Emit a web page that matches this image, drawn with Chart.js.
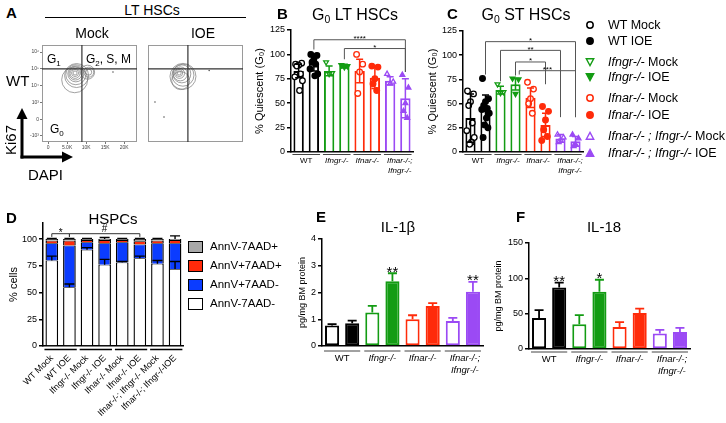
<!DOCTYPE html>
<html>
<head>
<meta charset="utf-8">
<script src="https://cdn.jsdelivr.net/npm/chart.js@4.4.1/dist/chart.umd.min.js"></script>
<style>
  body { margin: 0; background: #fff; }
  #page { position: relative; width: 726px; height: 423px; overflow: hidden; font-family: "Liberation Sans", Arial, sans-serif; color: #000; }
  #page canvas, #page svg { position: absolute; }
  .t { position: absolute; white-space: nowrap; line-height: 1; }
  .letter { font-weight: bold; font-size: 15px; }
  .mid { transform: translateX(-50%); }
  sub { font-size: 0.65em; vertical-align: -0.25em; line-height: 0; }
  .lg { position: absolute; white-space: nowrap; line-height: 1; }
</style>
</head>
<body>
<div id="page">
  <svg width="260" height="200" style="left:0;top:0">
    <line x1="45" y1="17.5" x2="246" y2="17.5" stroke="#000" stroke-width="1.2"/>
    <line x1="22" y1="158.5" x2="22" y2="117" stroke="#000" stroke-width="3"/>
    <polygon points="22,108 16.5,119 27.5,119" fill="#000"/>
    <line x1="20.5" y1="157" x2="63" y2="157" stroke="#000" stroke-width="3"/>
    <polygon points="73,157 62,151.5 62,162.5" fill="#000"/>
  </svg>
  <canvas id="flowMock" width="120" height="115" style="left:22px;top:40px"></canvas>
  <canvas id="flowIoe" width="105" height="115" style="left:143px;top:40px"></canvas>
  <canvas id="ltChart" width="170" height="172" style="left:250px;top:20px"></canvas>
  <canvas id="stChart" width="165" height="170" style="left:425px;top:20px"></canvas>
  <canvas id="hspcChart" width="190" height="208" style="left:0;top:215px"></canvas>
  <canvas id="il1Chart" width="200" height="150" style="left:290px;top:228px"></canvas>
  <canvas id="il18Chart" width="205" height="150" style="left:492px;top:230px"></canvas>

  <div class="t letter" style="left:6px;top:5px">A</div>
  <div class="t mid" style="left:152px;top:3px;font-size:14px">LT HSCs</div>
  <div class="t mid" style="left:92px;top:26px;font-size:14px">Mock</div>
  <div class="t mid" style="left:203px;top:26px;font-size:14px">IOE</div>
  <div class="t" style="left:6px;top:73px;font-size:15px">WT</div>
  <div class="t" style="left:10px;top:140px;font-size:15px;transform:translate(-50%,-50%) rotate(-90deg)">Ki67</div>
  <div class="t" style="left:28px;top:167px;font-size:15px">DAPI</div>

  <div class="t letter" style="left:277px;top:6px">B</div>
  <div class="t mid" style="left:355px;top:7px;font-size:16px">G<sub>0</sub> LT HSCs</div>
  <div class="t letter" style="left:447px;top:6px">C</div>
  <div class="t mid" style="left:526px;top:7px;font-size:16px">G<sub>0</sub> ST HSCs</div>

  <div class="t letter" style="left:6px;top:210px">D</div>
  <div class="t mid" style="left:113px;top:211px;font-size:15px">HSPCs</div>
  <div class="t letter" style="left:316px;top:209px">E</div>
  <div class="t mid" style="left:398px;top:219px;font-size:15px">IL-1β</div>
  <div class="t letter" style="left:516px;top:209px">F</div>
  <div class="t mid" style="left:604px;top:219px;font-size:15px">IL-18</div>
  <div id="legendC"></div>
  <div id="legendD"></div>
</div>
<script>
// ---- data ----
const groupNames = ['WT', 'Ifngr-/-', 'Ifnar-/-', ['Ifnar-/-;', 'Ifngr-/-']];
const barNames = ['WT Mock', 'WT IOE', 'Ifngr-/- Mock', 'Ifngr-/- IOE', 'Ifnar-/- Mock', 'Ifnar-/- IOE',
    'Ifnar-/-; Ifngr-/- Mock', 'Ifnar-/-; Ifngr-/-IOE'];

// A: flow plots (DAPI vs Ki67), contour rings {x, y, r}
const dapiTicks = [0, 5000, 10000, 15000, 20000];
const dapiLabels = ['0', '5.0K', '10K', '15K', '20K'];
const ki67Ticks = [-1, 0, 1, 2, 3, 4];
const ki67Labels = ['-10³', '0', '10³', '10⁴', '10⁵', '10⁶'];
const gateDapi = 8900;
const gateKi67 = 3;
const mockContour = [
    { x: 7100, y: 2.75, r: 2 }, { x: 7100, y: 2.75, r: 3.5 }, { x: 7100, y: 2.73, r: 5 },
    { x: 7200, y: 2.72, r: 6.5 }, { x: 7300, y: 2.7, r: 8 }, { x: 7300, y: 2.65, r: 10 },
    { x: 7500, y: 2.6, r: 12 }, { x: 7000, y: 2.35, r: 13 },
    { x: 10700, y: 2.8, r: 3 }, { x: 10700, y: 2.8, r: 5 }, { x: 10400, y: 2.8, r: 7 }
];
const ioeContour = [
    { x: 6600, y: 2.75, r: 2 }, { x: 6600, y: 2.75, r: 3.5 }, { x: 6700, y: 2.73, r: 5 },
    { x: 6900, y: 2.7, r: 7 }, { x: 7300, y: 2.7, r: 9 }, { x: 7600, y: 2.62, r: 11 },
    { x: 7600, y: 2.55, r: 13 }, { x: 7000, y: 2.3, r: 9 }
];
const mockDots = [{ x: 17080, y: 2.81 }];
const ioeDots = [{ x: 240, y: 1.02 }, { x: 2610, y: 0.13 }, { x: 14500, y: 2.9 }];

// B: G0 LT HSCs (% quiescent)
const ltMean = [83, 91, 83, 88, 83, 76, 73, 55];
const ltSd = [7, 8, 5, 2, 12, 11, 4, 20];
const ltPoints = [
    [90, 91, 89, 88, 80, 77, 73, 63],
    [100, 99, 95, 92, 90, 85, 80, 78],
    [92, 81, 80],
    [89, 88, 87],
    [100, 90, 82, 60],
    [88, 87, 75, 70, 63],
    [80, 72, 70],
    [79, 66, 50, 42, 35]
];
const ltSig = [
    { from: 1, to: 7, y: 115, a: 105, b: 82, text: '****' },
    { from: 3, to: 7, y: 106, a: 95, b: 82, text: '*' }
];

// C: G0 ST HSCs (% quiescent)
const stMean = [35, 43, 64, 70, 56, 28, 14, 11];
const stSd = [25, 16, 4, 6, 10, 12, 4, 5];
const stPoints = [
    [63, 60, 52, 48, 30, 22, 15, 10, 8],
    [76, 55, 52, 48, 45, 44, 40, 35, 28, 25, 15],
    [70, 62, 61],
    [76, 75, 60],
    [72, 65, 55, 50, 40],
    [47, 42, 33, 23, 16, 12],
    [18, 15, 12, 10],
    [18, 14, 8, 6]
];
const stSig = [
    { from: 1, to: 7, y: 114, a: 80, b: 36, text: '*' },
    { from: 2, to: 6, y: 105, a: 73, b: 36, text: '**' },
    { from: 3, to: 5, y: 93, a: 79, b: 70, text: '*' },
    { from: 3.25, to: 7, y: 84, a: 80, b: 36, text: '***' }
];

// D: HSPC apoptosis, % cells per fraction
const hspcLive = [80, 55, 90, 76, 78, 82, 77, 72];      // AnnV-7AAD-
const hspcEarly = [16, 39, 7, 20, 19, 13, 19, 24];      // AnnV+7AAD-
const hspcLate = [2.5, 4.5, 2, 3, 2, 3, 2.5, 3];        // AnnV+7AAD+
const hspcDead = [1.5, 1.5, 1, 1, 1, 2, 1.5, 1];        // AnnV-7AAD+
const hspcLiveErr = [4, 3, 2, 5, 1, 2, 3, 7];
const hspcTopErr = [0.5, 0.5, 0.5, 1.5, 0.5, 0.5, 0.5, 3];
const hspcSig = [
    { from: 0, to: 1, y: 105, a: 102, b: 102, text: '*' },
    { from: 1, to: 5, y: 105, a: 102, b: 102, text: '#' }
];

// E: IL-1b, F: IL-18 (pg/mg BM protein)
const il1Mean = [0.77, 0.85, 1.25, 2.42, 1.0, 1.5, 0.93, 2.03];
const il1Sem = [0.05, 0.1, 0.25, 0.3, 0.15, 0.1, 0.12, 0.37];
const il1Stars = [{ bar: 3, text: '**' }, { bar: 7, text: '**' }];
const il18Mean = [44, 87, 35, 81, 31, 51, 22, 24];
const il18Sem = [11, 7, 13, 17, 7, 6, 5, 6];
const il18Stars = [{ bar: 1, text: '**' }, { bar: 3, text: '*' }];

// ---- styling ----
const barColors = ['#000000', '#000000', '#139c13', '#139c13', '#ff2b0a', '#ff2b0a', '#9b4af4', '#9b4af4'];
const shapes = ['circle', 'circle', 'triangle', 'triangle', 'circle', 'circle', 'triangle', 'triangle'];
const turn = [0, 0, 180, 180, 0, 0, 0, 0];
const jitter = [-0.2, 0.2, 0, -0.12, 0.12, -0.25, 0.25, 0.06, -0.06, 0.16, -0.16];
const FONT = '"Liberation Sans", Arial, sans-serif';

Chart.defaults.font.family = FONT;
Chart.defaults.color = '#000';
Chart.defaults.animation = false;
Chart.defaults.responsive = false;
Chart.defaults.layout.autoPadding = false;
Chart.defaults.plugins.legend.display = false;
Chart.defaults.plugins.tooltip.enabled = false;

// error bars, brackets, stars and group underlines
const marks = {
    id: 'marks',
    afterDatasetsDraw(chart, args, o) {
        const ctx = chart.ctx;
        const xs = chart.scales.x, ys = chart.scales.y;
        ctx.save();
        (o.errs || []).forEach(s => {
            s.base.forEach((m, i) => {
                const x = xs.getPixelForValue(i);
                const top = ys.getPixelForValue(m + s.err[i]);
                const bot = ys.getPixelForValue(s.both ? m - s.err[i] : m);
                ctx.strokeStyle = s.colors ? s.colors[i] : '#000';
                ctx.lineWidth = s.width;
                ctx.beginPath();
                ctx.moveTo(x, bot);
                ctx.lineTo(x, top);
                ctx.moveTo(x - s.cap, top);
                ctx.lineTo(x + s.cap, top);
                if (s.both) {
                    ctx.moveTo(x - s.cap, bot);
                    ctx.lineTo(x + s.cap, bot);
                }
                ctx.stroke();
            });
        });
        ctx.textAlign = 'center';
        ctx.textBaseline = 'alphabetic';
        ctx.fillStyle = '#000';
        (o.brackets || []).forEach(b => {
            const x1 = xs.getPixelForValue(b.from), x2 = xs.getPixelForValue(b.to);
            const yt = ys.getPixelForValue(b.y);
            ctx.strokeStyle = o.bracketColor || '#555';
            ctx.lineWidth = 1;
            ctx.beginPath();
            ctx.moveTo(x1, ys.getPixelForValue(b.a));
            ctx.lineTo(x1, yt);
            ctx.lineTo(x2, yt);
            ctx.lineTo(x2, ys.getPixelForValue(b.b));
            ctx.stroke();
            const size = o.bracketSize;
            ctx.font = size + 'px ' + FONT;
            const base = /^\*+$/.test(b.text) ? yt - 2 + 0.43 * size : yt - 1.5;
            ctx.fillText(b.text, (x1 + x2) / 2, base);
        });
        (o.stars || []).forEach(s => {
            const y = ys.getPixelForValue(o.starMean[s.bar] + o.starErr[s.bar]);
            ctx.font = o.starSize + 'px ' + FONT;
            ctx.fillText(s.text, xs.getPixelForValue(s.bar), y - 3 + 0.43 * o.starSize);
        });
        ctx.restore();
    },
    afterDraw(chart, args, o) {
        const g = o.groups;
        if (!g) return;
        const ctx = chart.ctx, bottom = chart.chartArea.bottom;
        const bars = chart.getDatasetMeta(0).data;
        ctx.save();
        ctx.strokeStyle = g.color || '#000';
        ctx.lineWidth = g.lw;
        ctx.fillStyle = '#000';
        ctx.textAlign = 'center';
        ctx.textBaseline = 'top';
        for (let k = 0; k < bars.length / 2; k++) {
            const b1 = bars[2 * k], b2 = bars[2 * k + 1];
            ctx.beginPath();
            ctx.moveTo(b1.x - b1.width / 2 - 1, bottom + g.gap);
            ctx.lineTo(b2.x + b2.width / 2 + 1, bottom + g.gap);
            ctx.stroke();
            if (!g.labels) continue;
            ctx.font = (k ? 'italic ' : '') + g.size + 'px ' + FONT;
            [].concat(g.labels[k]).forEach((t, n) => {
                ctx.fillText(t, (b1.x + b2.x) / 2 + (n || k === 3 ? 2 : 0), bottom + g.textGap + n * g.lineH);
            });
        }
        ctx.restore();
    }
};

function valueAxis(max, step, title, width, titleSize, titlePad) {
    return {
        min: 0,
        max: max,
        ticks: { stepSize: step, font: { size: 9 }, padding: 2 },
        grid: { drawOnChartArea: false, tickLength: 4, color: '#000', lineWidth: 1.5 },
        border: { color: '#000', width: 1.5 },
        title: { display: true, text: title, font: { size: titleSize }, padding: { top: titlePad, bottom: 0 } },
        afterFit: function (scale) { scale.width = width; }
    };
}

function baseAxis(height) {
    return {
        ticks: { display: false },
        grid: { display: false, drawTicks: false },
        border: { color: '#000', width: 1.5 },
        afterFit: function (scale) { scale.height = height; }
    };
}

// B and C: outlined bars with individual mice as points
function dotChart(id, mean, sd, pts, sig, yWidth, xHeight, titlePad, pad) {
    const sets = [{
        type: 'bar', xAxisID: 'x', order: 1, data: mean, grouped: false,
        backgroundColor: '#fff', borderColor: barColors, borderWidth: 2,
        barPercentage: 0.68, categoryPercentage: 1
    }];
    pts.forEach((vals, i) => sets.push({
        type: 'scatter', xAxisID: 'xp', order: 0,
        data: vals.map((v, j) => ({ x: i + jitter[j % jitter.length], y: v })),
        pointStyle: shapes[i], pointRotation: turn[i], pointRadius: 2.8,
        pointBorderColor: barColors[i], pointBorderWidth: 1.3,
        pointBackgroundColor: i % 2 ? barColors[i] : '#fff'
    }));
    return new Chart(document.getElementById(id), {
        type: 'bar',
        data: { labels: barNames, datasets: sets },
        options: {
            layout: { padding: pad },
            scales: {
                x: baseAxis(xHeight),
                xp: { type: 'linear', display: false, offset: false, grid: { offset: false }, min: -0.5, max: 7.5 },
                y: valueAxis(125, 25, '% Quiescent (G₀)', yWidth, 11, titlePad)
            },
            plugins: {
                marks: {
                    errs: [{ base: mean, err: sd, both: true, colors: barColors, cap: 3.5, width: 1.5 }],
                    brackets: sig, bracketSize: 8,
                    groups: { labels: groupNames, gap: 2.5, textGap: 5, lineH: 10, size: 8, lw: 1, color: '#444' }
                }
            }
        },
        plugins: [marks]
    });
}

// E and F: hollow Mock bars, filled IOE bars, mean + SEM
function cytoChart(id, mean, sem, stars, max, step, yWidth, xHeight, titlePad, pad, gap) {
    return new Chart(document.getElementById(id), {
        type: 'bar',
        data: {
            labels: barNames,
            datasets: [{
                data: mean,
                backgroundColor: barColors.map((c, i) => i % 2 ? c : '#fff'),
                borderColor: barColors, borderWidth: 2, borderSkipped: false,
                barPercentage: 0.7, categoryPercentage: 1
            }]
        },
        options: {
            layout: { padding: pad },
            scales: {
                x: baseAxis(xHeight),
                y: valueAxis(max, step, 'pg/mg BM protein', yWidth, 9, titlePad)
            },
            plugins: {
                marks: {
                    errs: [{ base: mean, err: sem, both: false, colors: barColors, cap: 4.5, width: 1.8 }],
                    stars: stars, starMean: mean, starErr: sem, starSize: 15,
                    groups: { labels: groupNames, gap: gap, textGap: gap + 3, lineH: 12, size: 9.5, lw: 1, color: '#444' }
                }
            }
        },
        plugins: [marks]
    });
}

dotChart('ltChart', ltMean, ltSd, ltPoints, ltSig, 41, 40, 3.4, { top: 10, right: 7 });
dotChart('stChart', stMean, stSd, stPoints, stSig, 38, 38, 1.4, { top: 11, right: 7 });
cytoChart('il1Chart', il1Mean, il1Sem, il1Stars, 4, 1, 32, 32, 7.6, { top: 11, right: 7 }, 5);
cytoChart('il18Chart', il18Mean, il18Sem, il18Stars, 150, 50, 37, 31, 1.6, { top: 13, right: 7 }, 3);

// D: stacked apoptosis fractions
const hspcTotal = hspcLive.map((v, i) => v + hspcEarly[i] + hspcLate[i] + hspcDead[i]);
function segment(label, data, color) {
    return {
        label: label, data: data, backgroundColor: color, borderColor: '#000',
        borderWidth: { left: 1.4, right: 1.4, top: 0.8, bottom: 0 }, borderSkipped: false,
        barPercentage: 0.72, categoryPercentage: 1
    };
}
const hspcY = valueAxis(115, 25, '% cells', 43, 11, 7);
hspcY.stacked = true;
hspcY.afterBuildTicks = function (scale) { scale.ticks = scale.ticks.filter(t => t.value % 25 === 0); };
new Chart(document.getElementById('hspcChart'), {
    type: 'bar',
    data: {
        labels: barNames,
        datasets: [
            segment('AnnV-7AAD-', hspcLive, '#ffffff'),
            segment('AnnV+7AAD-', hspcEarly, '#0b3cff'),
            segment('AnnV+7AAD+', hspcLate, '#ff2a0a'),
            segment('AnnV-7AAD+', hspcDead, '#a8a8a8')
        ]
    },
    options: {
        layout: { padding: { top: 8, right: 5 } },
        scales: {
            x: {
                stacked: true,
                ticks: { font: { size: 9 }, minRotation: 45, maxRotation: 45, autoSkip: false, padding: 7 },
                grid: { display: false, drawTicks: false },
                border: { color: '#000', width: 1.5 },
                afterFit: function (scale) { scale.height = 77; }
            },
            y: hspcY
        },
        plugins: {
            marks: {
                errs: [
                    { base: hspcLive, err: hspcLiveErr, both: false, cap: 5, width: 1.4 },
                    { base: hspcTotal, err: hspcTopErr, both: false, cap: 5, width: 1.4 }
                ],
                brackets: hspcSig, bracketSize: 10, bracketColor: '#333',
                groups: { gap: 3.5, lw: 1.6 }
            }
        }
    },
    plugins: [marks]
});

// A: flow cytometry contour plots
function subText(ctx, x, y, main, sub, rest, size) {
    ctx.font = size + 'px ' + FONT;
    ctx.fillText(main, x, y);
    let w = ctx.measureText(main).width;
    ctx.font = Math.round(size * 0.7) + 'px ' + FONT;
    ctx.fillText(sub, x + w, y + size * 0.25);
    w += ctx.measureText(sub).width;
    if (rest) {
        ctx.font = size + 'px ' + FONT;
        ctx.fillText(rest, x + w, y);
    }
}
const flowPlugin = {
    id: 'flow',
    afterDatasetsDraw(chart, args, o) {
        const { ctx, chartArea: c, scales: { x, y } } = chart;
        ctx.save();
        ctx.strokeStyle = '#9a9a9a';
        ctx.lineWidth = 1;
        ctx.strokeRect(c.left + 0.5, c.top + 0.5, c.width - 1, c.height - 1);
        const gx = x.getPixelForValue(o.gx), gy = y.getPixelForValue(o.gy);
        ctx.strokeStyle = '#333';
        ctx.lineWidth = 1.2;
        ctx.beginPath();
        ctx.moveTo(gx, c.top);
        ctx.lineTo(gx, c.bottom);
        ctx.moveTo(c.left, gy);
        ctx.lineTo(c.right, gy);
        ctx.stroke();
        if (o.labels) {
            ctx.fillStyle = '#000';
            ctx.textBaseline = 'alphabetic';
            subText(ctx, c.left + 5, c.top + 18, 'G', '1', '', 12);
            subText(ctx, gx + 4, c.top + 18, 'G', '2', ', S, M', 12);
            subText(ctx, c.left + 8, c.bottom - 9, 'G', '0', '', 12);
        }
        ctx.restore();
    }
};
function flowAxis(min, max, ticks, labels, size, show) {
    return {
        min: min, max: max, display: show, offset: false,
        afterBuildTicks: function (scale) { scale.ticks = ticks.map(v => ({ value: v })); },
        ticks: { font: { size: 5 }, color: '#444', padding: 1, autoSkip: false, maxRotation: 0, callback: (v, i) => labels[i] },
        grid: { drawOnChartArea: false, tickLength: 2, color: '#777' },
        border: { display: false },
        afterFit: function (scale) {
            if (!show) return;
            if (scale.isHorizontal()) scale.height = size; else scale.width = size;
        }
    };
}
function flowChart(id, rings, dots, show, labels) {
    return new Chart(document.getElementById(id), {
        type: 'bubble',
        data: {
            datasets: [
                { data: rings, backgroundColor: 'rgba(0,0,0,0)', borderColor: '#7a7a7a', borderWidth: 0.7 },
                { data: dots.map(p => ({ x: p.x, y: p.y, r: 0.8 })), backgroundColor: '#555', borderWidth: 0 }
            ]
        },
        options: {
            layout: { padding: show ? { top: 5, right: 5 } : { left: 5, right: 5, top: 5, bottom: 13 } },
            scales: {
                x: flowAxis(-1600, 23400, dapiTicks, dapiLabels, 13, show),
                y: flowAxis(-1.36, 4.42, ki67Ticks, ki67Labels, 20, show)
            },
            plugins: { flow: { gx: gateDapi, gy: gateKi67, labels: labels } }
        },
        plugins: [flowPlugin]
    });
}
flowChart('flowMock', mockContour, mockDots, true, true);
flowChart('flowIoe', ioeContour, ioeDots, false, false);

// legends
const legendC = [
    ['circle', false, '#000', '', 'WT Mock', 25],
    ['circle', true, '#000', '', 'WT IOE', 41],
    ['down', false, barColors[2], 'Ifngr-/-', ' Mock', 62],
    ['down', true, barColors[2], 'Ifngr-/-', ' IOE', 77],
    ['circle', false, barColors[4], 'Ifnar-/-', ' Mock', 98],
    ['circle', true, barColors[4], 'Ifnar-/-', ' IOE', 115],
    ['up', false, barColors[6], 'Ifnar-/- ; Ifngr-/-', ' Mock', 136],
    ['up', true, barColors[6], 'Ifnar-/- ; Ifngr-/-', ' IOE', 153]
];
let html = '';
legendC.forEach(([shape, filled, color, gene, rest, y]) => {
    const fill = filled ? color : '#fff';
    let mark;
    if (shape === 'circle') mark = '<circle cx="5" cy="5" r="3.2" fill="' + fill + '" stroke="' + color + '" stroke-width="1.5"/>';
    else if (shape === 'down') mark = '<polygon points="1.3,1.8 8.7,1.8 5,8.6" fill="' + fill + '" stroke="' + color + '" stroke-width="1.4"/>';
    else mark = '<polygon points="5,1.4 8.7,8.2 1.3,8.2" fill="' + fill + '" stroke="' + color + '" stroke-width="1.4"/>';
    html += '<svg width="10" height="10" style="left:585px;top:' + (y - 5) + 'px">' + mark + '</svg>';
    html += '<div class="lg" style="left:608px;top:' + (y - 6.5) + 'px;font-size:12.5px">' +
        (gene ? '<i>' + gene + '</i>' : '') + rest + '</div>';
});
const legendD = [
    ['AnnV-7AAD+', '#a8a8a8', 247],
    ['AnnV+7AAD+', '#ff2a0a', 266],
    ['AnnV+7AAD-', '#0b3cff', 285],
    ['AnnV-7AAD-', '#ffffff', 304]
];
legendD.forEach(([label, color, y]) => {
    html += '<div style="position:absolute;left:188px;top:' + (y - 6) + 'px;width:13px;height:10px;background:' + color +
        ';border:1px solid #000"></div>';
    html += '<div class="lg" style="left:210px;top:' + (y - 6) + 'px;font-size:11.5px">' + label + '</div>';
});
document.getElementById('legendC').innerHTML = html;
</script>
</body>
</html>
